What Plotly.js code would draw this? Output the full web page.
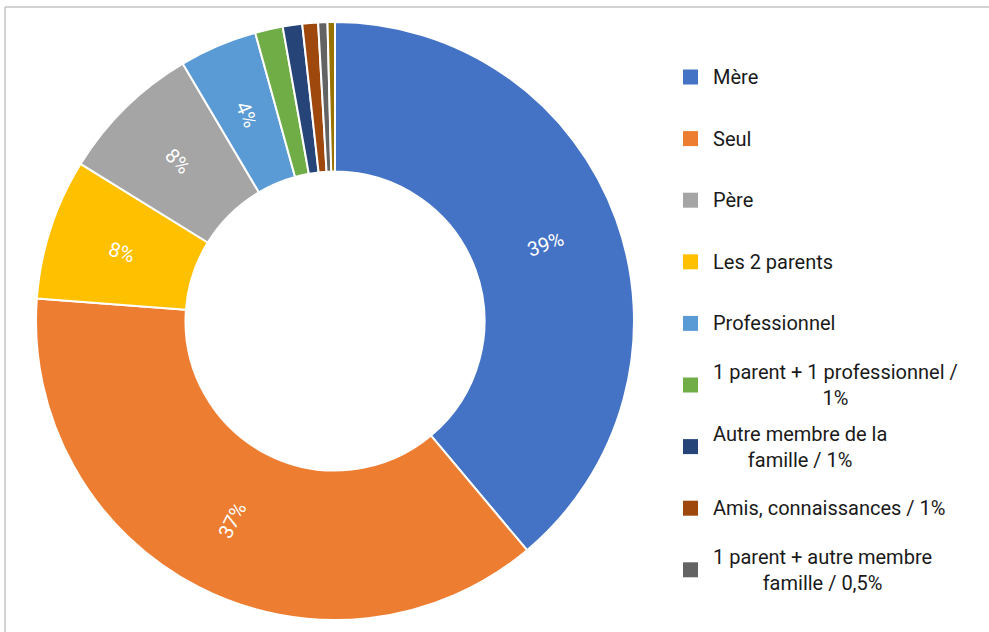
<!DOCTYPE html>
<html>
<head>
<meta charset="utf-8">
<script src="https://cdn.plot.ly/plotly-3.0.1.min.js"></script>
<style>
  html, body { margin: 0; padding: 0; background: #ffffff; }
  #chart { width: 989px; height: 632px; }
</style>
</head>
<body>
<div id="chart"></div>
<script>
// Slice order (clockwise from 12 o'clock)
const labels = [
  "Mère",
  "Seul",
  "Les 2 parents",
  "Père",
  "Professionnel",
  "1 parent + 1 professionnel /<br>1%",
  "Autre membre de la<br>famille / 1%",
  "Amis, connaissances / 1%",
  "1 parent + autre membre<br>famille / 0,5%",
  "Autre"
];
const values = [38.9, 37.3, 7.6, 7.7, 4.2, 1.5, 1.05, 0.85, 0.5, 0.4];
const colors = [
  "#4472C4", "#ED7D31", "#FFC000", "#A5A5A5", "#5B9BD5",
  "#70AD47", "#264478", "#9E480E", "#636363", "#997300"
];
// Legend order as shown in the reference (labels)
const legendLabels = [
  "Mère",
  "Seul",
  "Père",
  "Les 2 parents",
  "Professionnel",
  "1 parent + 1 professionnel /<br>1%",
  "Autre membre de la<br>famille / 1%",
  "Amis, connaissances / 1%",
  "1 parent + autre membre<br>famille / 0,5%"
];

const total = values.reduce((a, b) => a + b, 0);

const W = 989, H = 632;
const cx = 335, cy = 321, R = 299, HOLE = 0.5;

const trace = {
  type: "pie",
  labels: labels,
  values: values,
  textinfo: "none",
  hole: HOLE,
  sort: false,
  direction: "clockwise",
  rotation: 0,
  marker: { colors: colors, line: { color: "#ffffff", width: 2 } },
  domain: { x: [(cx - R) / W, (cx + R) / W], y: [1 - (cy + R) / H, 1 - (cy - R) / H] },
  showlegend: false,
  hoverinfo: "label+percent"
};

const shapes = [
  { type: "line", xref: "paper", yref: "paper", x0: 5 / W, x1: 1, y0: 1 - 7 / H, y1: 1 - 7 / H,
    line: { color: "#c4c4c4", width: 1.5 } },
  { type: "line", xref: "paper", yref: "paper", x0: 5 / W, x1: 5 / W, y0: 0, y1: 1 - 7 / H,
    line: { color: "#c4c4c4", width: 1.5 } }
];
const annotations = [];

// Percentage labels, radially oriented at the middle of each ring slice
let cum = 0;
const rMid = R * (1 + HOLE) / 2;
values.forEach((v, i) => {
  const frac = v / total;
  const mid = (cum + frac / 2) * 360;
  cum += frac;
  if (frac < 0.02) return;
  const t = mid * Math.PI / 180;
  const px = cx + rMid * Math.sin(t);
  const py = cy - rMid * Math.cos(t);
  const ang = mid <= 180 ? mid - 90 : mid - 270;
  annotations.push({
    xref: "paper", yref: "paper", x: px / W, y: 1 - py / H,
    xanchor: "center", yanchor: "middle",
    text: Math.round(frac * 100) + "%", showarrow: false, textangle: ang,
    font: { family: "Roboto, sans-serif", size: 20, color: "#ffffff" }
  });
});

const rowY0 = 77, rowStep = 61.6, swX = 683, sw = 15, txtX = 711;
legendLabels.forEach((lab, i) => {
  const idx = labels.indexOf(lab);
  const yc = rowY0 + i * rowStep;
  shapes.push({
    type: "rect", xref: "paper", yref: "paper",
    x0: swX / W, x1: (swX + sw) / W,
    y0: 1 - (yc + sw / 2) / H, y1: 1 - (yc - sw / 2) / H,
    fillcolor: colors[idx], line: { width: 0 }
  });
  annotations.push({
    xref: "paper", yref: "paper", x: txtX / W, y: 1 - yc / H,
    xanchor: "left", yanchor: "middle", align: "center",
    text: lab, showarrow: false,
    font: { family: "Roboto, sans-serif", size: 20, color: "#1a1a1a" }
  });
});

const layout = {
  width: W, height: H,
  margin: { l: 0, r: 0, t: 0, b: 0 },
  paper_bgcolor: "#ffffff",
  shapes: shapes,
  annotations: annotations,
  showlegend: false
};

Plotly.newPlot("chart", [trace], layout, { displayModeBar: false, staticPlot: true });
</script>
</body>
</html>
